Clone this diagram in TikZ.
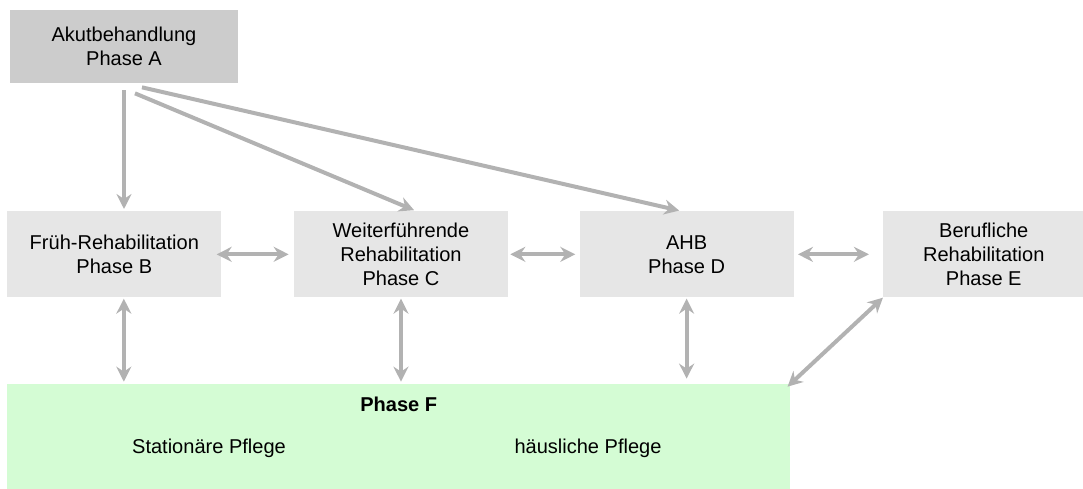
\documentclass[tikz,border=0pt]{standalone}
\usepackage{fontspec}
\setmainfont{Liberation Sans}
\usepackage{tikz}
\usetikzlibrary{arrows.meta,positioning}
\definecolor{akutgray}{RGB}{204,204,204}
\definecolor{phasegray}{RGB}{230,230,230}
\definecolor{pflegegreen}{RGB}{212,252,212}
\definecolor{arrowgray}{RGB}{178,178,178}

\begin{document}
\begin{tikzpicture}[x=0.02cm, y=-0.02cm, font=\fontsize{11.4}{13.6}\selectfont]
	\tikzstyle{block} = [rectangle, fill=phasegray, inner sep=0pt, align=center, minimum width=4.28cm, minimum height=1.72cm]
	\tikzstyle{tip} = [Stealth[length=0.3cm, width=0.3cm, inset=0.1cm]]
	\tikzstyle{conn} = [draw=arrowgray, line width=0.08cm, -{Stealth[length=0.3cm, width=0.3cm, inset=0.1cm]}]
	\tikzstyle{dconn} = [conn, {Stealth[length=0.3cm, width=0.3cm, inset=0.1cm]}-{Stealth[length=0.3cm, width=0.3cm, inset=0.1cm]}]

	\useasboundingbox (0,0) rectangle (1083,489);

	\node [block, fill=akutgray, minimum width=4.56cm, minimum height=1.46cm] (akut) at (124,46.5) {Akutbehandlung\\Phase A};
	\node [block, anchor=north west] (frueh) at (7,211) {Früh-Rehabilitation\\Phase B};
	\node [block, right = 1.44cm of frueh] (weiter) {Weiterführende\\Rehabilitation\\Phase C};
	\node [block, right = 1.42cm of weiter] (ahb) {AHB\\Phase D};
	\node [block, right = 1.78cm of ahb, minimum width=4.02cm] (beruf) {Berufliche\\Rehabilitation\\Phase E};
	\node [rectangle, fill=pflegegreen, inner sep=0pt, minimum width=15.66cm, minimum height=2.1cm, below right = 1.72cm and 0cm of frueh.south west] (pflege) {};
	\node (phasef) at ([yshift=-0.42cm]pflege.north) {\textbf{Phase F}};
	\node (stationaer) at (209,448) {Stationäre Pflege};
	\node (haeuslich) at (588,448) {häusliche Pflege};

	\draw [conn, shorten >=0.04cm] ([yshift=-0.14cm]akut.south) -- (akut.south |- frueh.north);
	\draw [conn, shorten >=0.04cm] ([xshift=0.22cm, yshift=-0.2cm]akut.south) -- ([xshift=0.3cm]weiter.north);
	\draw [conn, shorten >=0.04cm] ([xshift=0.36cm, yshift=-0.08cm]akut.south) -- ([xshift=-0.11cm]ahb.north);

	\draw [dconn] ([xshift=-0.1cm]frueh.east) -- ([xshift=-0.1cm]weiter.west);
	\draw [dconn] ([xshift=0.04cm]weiter.east) -- ([xshift=-0.08cm]ahb.west);
	\draw [dconn] ([xshift=0.08cm]ahb.east) -- ([xshift=-0.28cm]beruf.west);

	\draw [dconn, shorten <=0.02cm, shorten >=0.04cm] ([xshift=0.19cm]frueh.south) -- ([xshift=0.19cm]frueh.south |- pflege.north);
	\draw [dconn, shorten <=0.02cm, shorten >=0.04cm] (weiter.south) -- (weiter.south |- pflege.north);
	\draw [dconn, shorten <=0.02cm, shorten >=0.1cm] (ahb.south) -- (ahb.south |- pflege.north);
	\draw [dconn] (beruf.south west) -- ([xshift=-0.06cm, yshift=-0.06cm]pflege.north east);
\end{tikzpicture}
\end{document}
